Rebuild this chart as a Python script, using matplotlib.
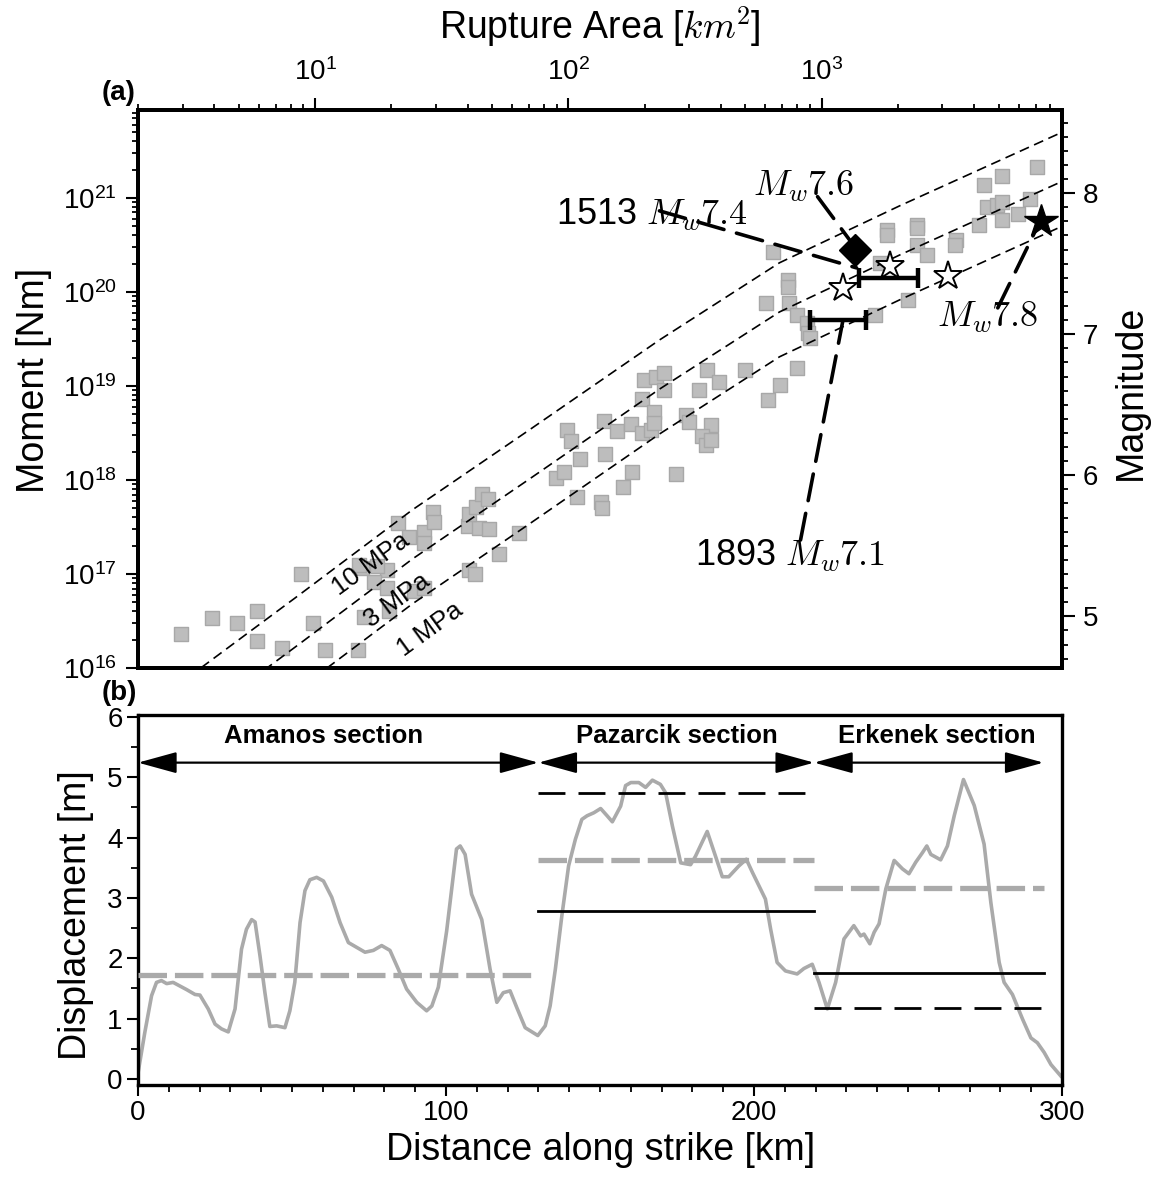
import numpy as np
import matplotlib
matplotlib.use('Agg')
import matplotlib.pyplot as plt
from matplotlib.ticker import LogLocator, MultipleLocator, NullFormatter

plt.rcParams['font.family'] = ['Liberation Sans', 'DejaVu Sans']
plt.rcParams['mathtext.fontset'] = 'cm'
plt.rcParams['mathtext.default'] = 'regular'

# ---------------- (a) scaling data ----------------
# catalogue events: rupture area [km^2], seismic moment [Nm]
cat_area = [2.95, 3.92, 4.92, 5.90, 5.90, 7.41, 8.80, 9.82, 10.9, 14.8,
            15.3, 19.3, 17.1, 19.3, 24.6, 27.0, 19.6, 15.6, 21.3, 23.5, 27.0, 27.0, 29.3, 29.5, 14.9, 17.6,
            40.2, 44.5, 48.7, 40.6, 43.3, 45.7, 48.3, 40.6, 42.9, 53.4, 64.0,
            99.1, 102.8, 111.5, 89.7, 96.4, 108.5, 138.8, 140.0, 135.0, 136.2, 165.0, 179.1, 156.2, 177.4, 196.1, 212.9,
            199.7, 196.1, 218.8, 222.8, 239.5, 239.5, 354.3, 395.3, 329.5, 496.3, 796.5, 682.3, 611.8, 292.7, 300.8,
            367.5, 218.8, 338.5, 351.1, 367.5, 267.3,
            640.3, 733.9, 733.9, 600.8, 740.7, 796.5, 872.3, 880.4, 896.9, 1620,
            7077, 5146, 4369, 4489, 4917, 5146, 5146, 5953, 6640, 4175, 2374, 2374, 1807, 1807, 3385, 3355, 2374,
            2600, 1695, 2188]
cat_moment = [2.30e16, 3.40e16, 3.01e16, 4.04e16, 1.94e16, 1.63e16, 1.00e17, 3.01e16, 1.55e16, 1.55e16,
              1.16e17, 1.10e17, 8.2e16, 7.1e16, 6.6e16, 7.1e16, 4.0e16, 3.5e16, 3.49e17, 2.48e17, 2.80e17, 2.14e17,
              4.57e17, 3.57e17, 1.25e17, 1.22e17,
              3.24e17, 3.09e17, 3.01e17, 4.35e17, 5.16e17, 7.10e17, 6.28e17, 1.10e17, 1.00e17, 1.63e17, 2.73e17,
              3.40e18, 2.60e18, 1.67e18, 1.05e18, 1.22e18, 6.6e17, 4.25e18, 1.89e18, 5.83e17, 5.04e17, 8.43e17,
              1.22e18, 3.32e18, 3.94e18, 3.16e18, 3.40e18,
              1.16e19, 7.28e18, 5.29e18, 1.25e19, 1.38e19, 9.06e18, 1.48e19, 1.10e19, 9.06e18, 1.48e19, 1.55e19,
              1.03e19, 7.10e18, 4.92e18, 4.14e18, 3.85e18, 4.04e18, 2.94e18, 2.36e18, 2.67e18, 1.16e18,
              2.67e20, 1.34e20, 1.13e20, 7.64e19, 7.64e19, 5.69e19, 4.68e19, 3.66e19, 3.24e19, 5.69e19,
              2.14e21, 1.71e21, 1.38e21, 8.0e20, 8.4e20, 9.06e20, 5.83e20, 6.76e20, 9.76e20, 5.16e20, 5.16e20,
              4.80e20, 4.57e20, 4.04e20, 3.57e20, 3.16e20, 3.16e20, 2.48e20, 2.04e20, 8.2e19]

# constant stress drop curve (10 MPa), other drops scale linearly
curve_area = [2.0, 3.58, 8.65, 24.2, 70.1, 229, 682, 2032, 8974]
curve_moment_10mpa = [3.21e15, 1.025e16, 5.98e16, 4.80e17, 3.40e18, 3.08e19, 2.04e20, 8.22e20, 5.04e21]
stress_drops = [10, 3, 1]
stress_labels = ['10 MPa', '3 MPa', '1 MPa']

# 2023 events
star_area = [1213, 1858, 3155]
star_moment = [1.1e20, 1.9e20, 1.46e20]
mainshock_area, mainshock_mw = 7380, 7.8
second_area, second_mw = 1361, 7.6

# historical events: area range and magnitude
hist_area_min = [1400, 900]
hist_area_max = [2400, 1500]
hist_mw = [7.4, 7.1]

# ---------------- (b) slip profile ----------------
dist_km = [0.1, 2.2, 4.4, 6.0, 7.6, 9.3, 11.4, 13.6, 15.8, 18.5, 20.1, 22.8, 25.0, 27.1, 29.3, 31.5, 33.6, 35.2,
           36.9, 38.0, 39.6, 41.2, 42.8, 45.0, 47.7, 49.3, 50.9, 52.6, 54.2, 55.8, 58.0, 60.2, 62.9, 65.6, 68.3,
           71.0, 73.7, 76.4, 79.1, 81.8, 84.5, 87.2, 90.5, 93.7, 95.4, 97.5, 100.2, 102.3, 103.4, 104.6, 106.2,
           108.3, 111.6, 114.3, 116.5, 118.6, 120.8, 123.0, 125.7, 127.9, 129.8, 132.2, 133.8, 135.5, 137.6,
           139.8, 142.0, 144.1, 145.8, 148.0, 150.2, 152.3, 154.0, 156.7, 158.3, 160.0, 162.6, 164.8, 167.0,
           169.6, 171.3, 173.5, 176.2, 179.4, 181.0, 184.8, 187.5, 189.7, 191.8, 195.1, 197.5, 199.5, 201.6,
           203.7, 205.4, 207.5, 210.2, 214.0, 216.2, 218.9, 221.1, 223.8, 226.5, 229.2, 232.4, 234.6, 235.7,
           237.6, 239.0, 240.6, 242.8, 245.5, 248.2, 250.3, 252.5, 254.7, 256.1, 257.4, 260.6, 262.8, 265.0,
           268.0, 271.5, 274.7, 276.9, 279.6, 281.2, 283.9, 287.2, 289.9, 292.0, 294.2, 296.4, 299.6]
slip_m = [0.13, 0.77, 1.38, 1.60, 1.63, 1.58, 1.60, 1.54, 1.48, 1.40, 1.39, 1.16, 0.91, 0.83, 0.78, 1.16, 2.15, 2.48,
          2.64, 2.60, 2.04, 1.43, 0.87, 0.88, 0.85, 1.13, 1.60, 2.59, 3.12, 3.30, 3.34, 3.28, 3.01, 2.59, 2.26,
          2.18, 2.10, 2.13, 2.21, 2.13, 1.82, 1.49, 1.27, 1.13, 1.21, 1.52, 2.45, 3.35, 3.81, 3.86, 3.72,
          3.06, 2.64, 1.82, 1.27, 1.43, 1.46, 1.18, 0.85, 0.78, 0.72, 0.88, 1.21, 1.82, 2.70,
          3.53, 3.97, 4.30, 4.36, 4.41, 4.48, 4.36, 4.26, 4.52, 4.86, 4.91, 4.91, 4.83, 4.95,
          4.88, 4.74, 4.19, 3.58, 3.55, 3.69, 4.10, 3.69, 3.35, 3.35, 3.53, 3.64, 3.42, 3.20,
          2.98, 2.48, 1.93, 1.79, 1.74, 1.83, 1.90, 1.60, 1.16, 1.60, 2.32, 2.54, 2.37, 2.40,
          2.24, 2.43, 2.57, 3.15, 3.62, 3.48, 3.40, 3.59, 3.75, 3.86, 3.72, 3.63, 3.86, 4.36,
          4.96, 4.53, 3.89, 2.92, 1.93, 1.60, 1.40, 0.99, 0.68, 0.60, 0.44, 0.24, 0.05]

sections = ['Amanos section', 'Pazarcik section', 'Erkenek section']
sec_start = [0, 130, 219.5]
sec_end = [130, 219.5, 294]
sec_label_x = [60.2, 174.8, 259.3]
sec_mean = [1.72, 3.63, 3.17]          # grey dashed
# Pazarcik and Erkenek only
hist_sec_start = [130, 219.5]
hist_sec_end = [219.5, 294]
hist_solid = [2.78, 1.75]
hist_dashed = [4.74, 1.18]


def mw_to_moment(mw):
    return 10 ** (1.5 * (mw + 6.0333))


def moment_to_mw(m0):
    return (2.0 / 3.0) * np.log10(m0) - 6.0333


fig = plt.figure(figsize=(11.55, 11.79), dpi=100)

# ================= panel (a) =================
ax = fig.add_axes([0.1195, 0.4334, 0.8, 0.4733])
ax.set_xscale('log')
ax.set_yscale('log')
ax.set_xlim(2.0, 8900)
ax.set_ylim(1e16, 8.6e21)

ax.scatter(cat_area, cat_moment, marker='s', s=115, c='#bdbdbd', edgecolors='#a8a8a8',
           linewidths=1.0, zorder=2)

for sd in stress_drops:
    ax.plot(curve_area, np.array(curve_moment_10mpa) * sd / 10.0, color='k', lw=1.2,
            ls=(0, (6.0, 3.4)), zorder=3)

for lab, pos in zip(stress_labels, [(16.6, 1.26e17), (21.1, 5.2e16), (28.5, 2.6e16)]):
    ax.text(pos[0], pos[1], lab, rotation=36, rotation_mode='anchor', ha='center', va='center',
            fontsize=18.5, zorder=4)

for amin, amax, mw in zip(hist_area_min, hist_area_max, hist_mw):
    ac = np.sqrt(amin * amax)
    ax.errorbar(ac, mw_to_moment(mw), xerr=[[ac - amin], [amax - ac]], fmt='none', ecolor='k',
                elinewidth=3.2, capsize=7, capthick=3.2, zorder=5)

ax.plot(star_area, star_moment, ls='none', marker='*', ms=21, mfc='white', mec='k', mew=1.4, zorder=6)
ax.plot([mainshock_area], [mw_to_moment(mainshock_mw)], ls='none', marker='*', ms=25, color='k', zorder=6)
ax.plot([second_area], [mw_to_moment(second_mw)], ls='none', marker='D', ms=16, color='k', zorder=6)

leader = dict(arrowstyle='-', color='k', lw=2.6, linestyle=(0, (7.5, 3.6)), shrinkA=0, shrinkB=0)
ax.annotate('', xy=(1290, 3.57e20), xytext=(964, 1.03e21), arrowprops=leader, zorder=7)
ax.annotate('', xy=(1375, 1.80e20), xytext=(229, 7.28e20), arrowprops=leader, zorder=7)
ax.annotate('', xy=(1211, 4.80e19), xytext=(826, 2.30e17), arrowprops=leader, zorder=7)
ax.annotate('', xy=(7272, 5.56e20), xytext=(4963, 6.76e19), arrowprops=leader, zorder=7)

mw_tex = r'$\mathit{M}_{\mathit{w}}\mathrm{%.1f}$'
ax.text(534, 1.08e21, mw_tex % 7.6, fontsize=26, ha='left', va='baseline', zorder=8)
ax.text(89.7, 5.28e20, '1513 ' + mw_tex % 7.4, fontsize=26, ha='left', va='baseline', zorder=8)
ax.text(315, 1.25e17, '1893 ' + mw_tex % 7.1, fontsize=26, ha='left', va='baseline', zorder=8)
ax.text(2848, 4.35e19, mw_tex % 7.8, fontsize=26, ha='left', va='baseline', zorder=8)

ax.xaxis.set_major_locator(LogLocator(base=10, numticks=20))
ax.xaxis.set_minor_locator(LogLocator(base=10, subs=np.arange(2, 10), numticks=20))
ax.xaxis.set_minor_formatter(NullFormatter())
ax.yaxis.set_major_locator(LogLocator(base=10, numticks=20))
ax.yaxis.set_minor_locator(LogLocator(base=10, subs=np.arange(2, 10), numticks=20))
ax.yaxis.set_minor_formatter(NullFormatter())
ax.tick_params(axis='x', which='both', bottom=False, labelbottom=False, top=True, labeltop=True,
               direction='out')
ax.tick_params(axis='y', which='both', left=True, right=False, direction='out')
ax.tick_params(which='major', length=9, width=1.5, labelsize=20)
ax.tick_params(which='minor', length=4.5, width=1.3)
ax.tick_params(axis='x', which='major', pad=8)
ax.tick_params(axis='y', which='major', pad=6)

axr = ax.twinx()
axr.set_ylim(moment_to_mw(1e16), moment_to_mw(8.6e21))
axr.yaxis.set_major_locator(MultipleLocator(1))
axr.yaxis.set_minor_locator(MultipleLocator(0.1))
axr.tick_params(axis='y', which='major', length=9, width=1.5, labelsize=20, pad=6)
axr.tick_params(axis='y', which='minor', length=4.5, width=1.3)

for a in (ax, axr):
    for sp in a.spines.values():
        sp.set_linewidth(2.8)

# ================= panel (b) =================
bx = fig.add_axes([0.1195, 0.0797, 0.8, 0.3139])
bx.set_xlim(0, 300)
bx.set_ylim(-0.1, 6.03)

bx.plot(dist_km, slip_m, color='#aaaaaa', lw=2.6, zorder=2)
for s0, s1, v in zip(sec_start, sec_end, sec_mean):
    bx.plot([s0, s1], [v, v], color='#aaaaaa', lw=3.8, ls=(0, (5.4, 1.5)), zorder=3)
for s0, s1, v in zip(hist_sec_start, hist_sec_end, hist_solid):
    bx.plot([s0, s1], [v, v], color='k', lw=2.0, zorder=4)
for s0, s1, v in zip(hist_sec_start, hist_sec_end, hist_dashed):
    bx.plot([s0, s1], [v, v], color='k', lw=2.0, ls=(0, (9.7, 4.7)), zorder=4)

for s0, s1, lab, lx in zip(sec_start, sec_end, sections, sec_label_x):
    bx.annotate('', xy=(s1, 5.24), xytext=(s0, 5.24),
                arrowprops=dict(arrowstyle='<|-|>,head_length=1.2,head_width=0.33', mutation_scale=20,
                                color='k', lw=1.6, shrinkA=0, shrinkB=0))
    bx.text(lx, 5.57, lab, ha='center', va='baseline', fontsize=18.5, fontweight='bold')

bx.xaxis.set_major_locator(MultipleLocator(100))
bx.xaxis.set_minor_locator(MultipleLocator(10))
bx.yaxis.set_major_locator(MultipleLocator(1))
bx.yaxis.set_minor_locator(MultipleLocator(0.5))
bx.tick_params(which='major', length=8, width=1.5, labelsize=20, direction='out')
bx.tick_params(which='minor', length=5, width=1.3, direction='out')
bx.tick_params(axis='x', which='major', pad=3)
bx.tick_params(axis='y', which='major', pad=3)
for sp in bx.spines.values():
    sp.set_linewidth(2.4)

# labels
fig.text(0.5195, 0.9771, r'Rupture Area [$\mathit{km}^{\mathrm{2}}$]', ha='center', va='center', fontsize=27)
fig.text(0.0294, 0.6777, 'Moment [Nm]', rotation=90, ha='center', va='center', fontsize=27)
fig.text(0.9792, 0.6675, 'Magnitude', rotation=90, ha='center', va='center', fontsize=27)
fig.text(0.0658, 0.2239, 'Displacement [m]', rotation=90, ha='center', va='center', fontsize=27)
fig.text(0.5203, 0.0246, 'Distance along strike [km]', ha='center', va='center', fontsize=27)
fig.text(0.103, 0.9211, '(a)', ha='center', va='center', fontsize=20, fontweight='bold')
fig.text(0.103, 0.4118, '(b)', ha='center', va='center', fontsize=20, fontweight='bold')

fig.savefig('out.png', dpi=100)
